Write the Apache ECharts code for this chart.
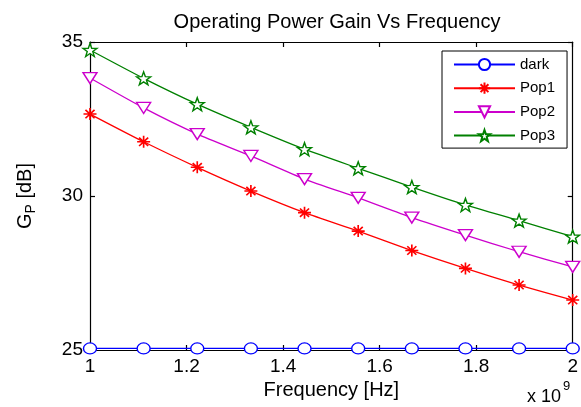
<!DOCTYPE html>
<html>
<head>
<meta charset="utf-8">
<script src="https://cdn.jsdelivr.net/npm/echarts@6/dist/echarts.min.js"></script>
<style>html,body{margin:0;padding:0;background:#fff;}#c{width:581px;height:407px;}</style>
</head>
<body>
<div id="c"></div>
<script>
// Frequency in units of 1e9 Hz
var freq = [1, 1.1111, 1.2222, 1.3333, 1.4444, 1.5556, 1.6667, 1.7778, 1.8889, 2];
var dark = [25.05, 25.05, 25.05, 25.05, 25.05, 25.05, 25.05, 25.05, 25.05, 25.05];
var pop1 = [32.66, 31.76, 30.93, 30.16, 29.46, 28.86, 28.23, 27.65, 27.11, 26.62];
var pop2 = [33.83, 32.86, 32.01, 31.30, 30.55, 29.94, 29.30, 28.73, 28.19, 27.70];
var pop3 = [34.74, 33.82, 32.98, 32.23, 31.52, 30.90, 30.29, 29.71, 29.20, 28.68];
var seriesNames = ['dark', 'Pop1', 'Pop2', 'Pop3'];
var xTicks = [1, 1.2, 1.4, 1.6, 1.8, 2];
var yTicks = [25, 30, 35];

function pairs(ys) { return freq.map(function (x, i) { return [x, ys[i]]; }); }

var FONT = 'Liberation Sans, Arial, sans-serif';
var starPath = 'path://M0,-10 L2.35,-3.24 L9.51,-3.09 L3.80,1.24 L5.88,8.09 L0,4 L-5.88,8.09 L-3.80,1.24 L-9.51,-3.09 L-2.35,-3.24 Z';
var astPath = 'path://M0,-10 L0,10 M-10,0 L10,0 M-7,-7 L7,7 M-7,7 L7,-7';
var triPath = 'path://M-10,-8 L10,-8 L0,9 Z';

var chart = echarts.init(document.getElementById('c'));
var axisCommon = {
  type: 'value',
  axisLine: { show: true, lineStyle: { color: '#000', width: 1.2 } },
  axisTick: { show: true, inside: true, length: 5, lineStyle: { color: '#000', width: 1.2 } },
  splitLine: { show: false }
};
chart.setOption({
  animation: false,
  backgroundColor: '#fff',
  title: {
    text: 'Operating Power Gain Vs Frequency',
    left: 332, top: 7, textAlign: 'center',
    textStyle: { fontFamily: FONT, fontSize: 20, fontWeight: 'normal', color: '#000' }
  },
  grid: { left: 90, right: 7, top: 42, bottom: 57 },
  legend: {
    orient: 'vertical',
    left: 442, top: 51,
    backgroundColor: '#fff',
    borderColor: '#000', borderWidth: 1,
    padding: [6, 12, 5, 11],
    itemWidth: 61, itemHeight: 14, itemGap: 8.7,
    textStyle: { fontFamily: FONT, fontSize: 15, color: '#000' },
    data: seriesNames
  },
  xAxis: [
    Object.assign({}, axisCommon, {
      position: 'bottom', min: 1, max: 2, interval: 0.2,
      axisLabel: { fontFamily: FONT, fontSize: 19, color: '#000', margin: 7,
        formatter: function (v) { return String(xTicks.find(function (t) { return Math.abs(t - v) < 1e-6; }) || v); } },
      name: 'Frequency [Hz]', nameLocation: 'middle', nameGap: 29,
      nameTextStyle: { fontFamily: FONT, fontSize: 20, color: '#000' }
    }),
    Object.assign({}, axisCommon, {
      position: 'top', min: 1, max: 2, interval: 0.2, axisLabel: { show: false }
    })
  ],
  yAxis: [
    Object.assign({}, axisCommon, {
      position: 'left', min: yTicks[0], max: yTicks[yTicks.length - 1], interval: 5,
      axisLabel: { fontFamily: FONT, fontSize: 19, color: '#000', margin: 7 },
      name: '{a|G}{b|P}{a| [dB]}', nameLocation: 'middle', nameGap: 52, nameRotate: 90,
      nameTextStyle: { fontFamily: FONT, color: '#000',
        rich: { a: { fontFamily: FONT, fontSize: 20, color: '#000' },
                b: { fontFamily: FONT, fontSize: 14, color: '#000', verticalAlign: 'bottom', padding: [11, 0, 0, 0] } } }
    }),
    Object.assign({}, axisCommon, {
      position: 'right', min: 25, max: 35, interval: 5, axisLabel: { show: false }
    })
  ],
  graphic: [
    { type: 'text', x: 527, y: 388,
      style: { text: 'x 10', fontFamily: FONT, fontSize: 18, fill: '#000', verticalAlign: 'top' } },
    { type: 'text', x: 563, y: 380,
      style: { text: '9', fontFamily: FONT, fontSize: 13, fill: '#000', verticalAlign: 'top' } }
  ],
  series: [
    { name: 'dark', type: 'line', data: pairs(dark), symbol: 'circle', symbolSize: [13, 11],
      lineStyle: { color: '#0000ff', width: 1.3 },
      itemStyle: { color: '#fff', borderColor: '#0000ff', borderWidth: 1.3 } },
    { name: 'Pop1', type: 'line', data: pairs(pop1), symbol: astPath, symbolSize: [13, 12],
      lineStyle: { color: '#ff0000', width: 1.3 }, smooth: 0.2,
      itemStyle: { color: '#ff0000', borderColor: '#ff0000', borderWidth: 1.6 } },
    { name: 'Pop2', type: 'line', data: pairs(pop2), symbol: triPath, symbolSize: [14, 11],
      lineStyle: { color: '#cc00cc', width: 1.3 }, smooth: 0.2,
      itemStyle: { color: '#fff', borderColor: '#cc00cc', borderWidth: 1.4 } },
    { name: 'Pop3', type: 'line', data: pairs(pop3), symbol: starPath, symbolSize: [14, 13],
      lineStyle: { color: '#008000', width: 1.3 }, smooth: 0.2,
      itemStyle: { color: '#fff', borderColor: '#008000', borderWidth: 1.4 } }
  ]
});
</script>
</body>
</html>
